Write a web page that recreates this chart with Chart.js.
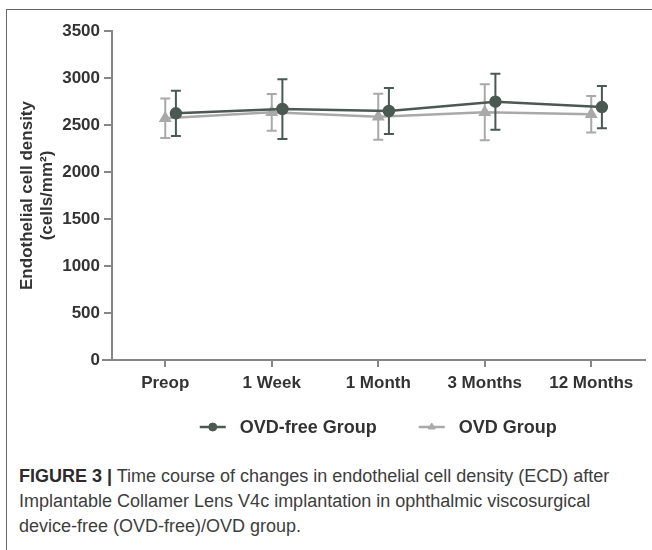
<!DOCTYPE html>
<html>
<head>
<meta charset="utf-8">
<script src="https://cdn.jsdelivr.net/npm/chart.js@4.4.1/dist/chart.umd.min.js"></script>
<style>
  html, body { margin: 0; padding: 0; background: #fff; }
  #wrap { position: relative; width: 652px; height: 550px; overflow: hidden; }
  #frame { position: absolute; left: 6px; top: 9px; right: 0; bottom: 0; border-left: 1px solid #666; border-top: 1px solid #666; }
  #chartBox { position: absolute; left: 0; top: 0; width: 652px; height: 450px; }
  #caption { position: absolute; left: 19px; top: 464px; font-family: "Liberation Sans", Arial, sans-serif; font-size: 18px; line-height: 25px; color: #3d3d3d; white-space: nowrap; }
  #caption b { font-weight: bold; color: #2b2b2b; }
</style>
</head>
<body>
<div id="wrap">
  <div id="frame"></div>
  <div id="chartBox"><canvas id="ecdChart"></canvas></div>
  <div id="caption"><b>FIGURE 3 |</b> Time course of changes in endothelial cell density (ECD) after<br>Implantable Collamer Lens V4c implantation in ophthalmic viscosurgical<br>device-free (OVD-free)/OVD group.</div>
</div>
<script>
// 数据
const categories = ['Preop', '1 Week', '1 Month', '3 Months', '12 Months'];
const ovdFreeMean = [2624, 2670, 2649, 2748, 2691];
const ovdFreeSD = [240, 318, 245, 298, 225];
const ovdMean = [2571, 2635, 2588, 2635, 2614];
const ovdSD = [210, 196, 245, 298, 195];
const yTicks = [0, 500, 1000, 1500, 2000, 2500, 3000, 3500];

const dark = '#4a5952';
const grey = '#a9a9a9';
const axisColor = '#868686';
const textColor = '#333';
const fontFamily = '"Liberation Sans", Arial, sans-serif';
const dodge = 0.1; // OVD-free 组稍微右移

// 误差线
const errorBars = {
  id: 'errorBars',
  beforeDatasetDraw(chart, args) {
    const ds = chart.data.datasets[args.index];
    const yScale = chart.scales.y;
    const ctx = chart.ctx;
    ctx.save();
    ctx.strokeStyle = ds.borderColor;
    ctx.lineWidth = 2;
    args.meta.data.forEach((pt, i) => {
      const m = ds.data[i].y, e = ds.errors[i];
      const top = yScale.getPixelForValue(m + e);
      const bot = yScale.getPixelForValue(m - e);
      ctx.beginPath();
      ctx.moveTo(pt.x, top); ctx.lineTo(pt.x, bot);
      ctx.moveTo(pt.x - 5, top); ctx.lineTo(pt.x + 5, top);
      ctx.moveTo(pt.x - 5, bot); ctx.lineTo(pt.x + 5, bot);
      ctx.stroke();
    });
    ctx.restore();
  }
};

// 图例 + x轴左侧延长
const lineLegend = {
  id: 'lineLegend',
  afterDraw(chart) {
    const ctx = chart.ctx;
    const area = chart.chartArea;
    ctx.save();
    // x轴向左延伸一点
    ctx.strokeStyle = axisColor;
    ctx.lineWidth = 2;
    ctx.beginPath();
    ctx.moveTo(area.left - 10, area.bottom);
    ctx.lineTo(area.left, area.bottom);
    ctx.stroke();

    ctx.font = 'bold 18px ' + fontFamily;
    const items = chart.data.datasets.map(ds => ({ ds, w: 26 + 14 + ctx.measureText(ds.label).width }));
    const gap = 42;
    const total = items.reduce((s, it) => s + it.w, 0) + gap * (items.length - 1);
    let x = (area.left + area.right) / 2 - total / 2;
    const y = area.bottom + 67;
    items.forEach(it => {
      ctx.strokeStyle = it.ds.borderColor;
      ctx.fillStyle = it.ds.borderColor;
      ctx.lineWidth = 2.5;
      ctx.beginPath();
      ctx.moveTo(x, y); ctx.lineTo(x + 26, y);
      ctx.stroke();
      ctx.lineWidth = 1;
      Chart.helpers.drawPoint(ctx, { pointStyle: it.ds.pointStyle, radius: 4, borderWidth: 1, rotation: 0 }, x + 13, y);
      ctx.fillStyle = textColor;
      ctx.textBaseline = 'middle';
      ctx.textAlign = 'left';
      ctx.fillText(it.ds.label, x + 40, y + 1);
      x += it.w + gap;
    });
    ctx.restore();
  }
};

new Chart(document.getElementById('ecdChart'), {
  type: 'line',
  data: {
    datasets: [{
      label: 'OVD-free Group',
      data: categories.map((c, i) => ({ x: i + dodge, y: ovdFreeMean[i] })),
      errors: ovdFreeSD,
      borderColor: dark,
      backgroundColor: dark,
      borderWidth: 2.5,
      pointStyle: 'circle',
      pointRadius: 5,
      pointHoverRadius: 5,
      tension: 0
    }, {
      label: 'OVD Group',
      data: categories.map((c, i) => ({ x: i, y: ovdMean[i] })),
      errors: ovdSD,
      borderColor: grey,
      backgroundColor: grey,
      borderWidth: 2.5,
      pointStyle: 'triangle',
      pointRadius: 5,
      pointHoverRadius: 5,
      tension: 0
    }]
  },
  options: {
    responsive: true,
    maintainAspectRatio: false,
    animation: false,
    layout: { padding: { top: 31, right: 1, bottom: 0, left: 0 } },
    plugins: {
      legend: { display: false },
      tooltip: { enabled: false }
    },
    scales: {
      x: {
        type: 'linear',
        min: -0.5,
        max: 4.5,
        afterBuildTicks: s => { s.ticks = categories.map((c, i) => ({ value: i })); },
        afterFit: s => { s.height = 90; },
        grid: { drawOnChartArea: false, drawTicks: true, tickLength: 7, color: axisColor, lineWidth: 2 },
        border: { color: axisColor, width: 2 },
        ticks: {
          autoSkip: false, maxRotation: 0, padding: 6,
          color: textColor,
          font: { family: fontFamily, size: 17, weight: 'bold' },
          callback: v => categories[v] ?? ''
        }
      },
      y: {
        min: 0,
        max: 3500,
        afterBuildTicks: s => { s.ticks = yTicks.map(v => ({ value: v })); },
        afterFit: s => { s.width = 112; },
        grid: { drawOnChartArea: false, drawTicks: true, tickLength: 8, color: axisColor, lineWidth: 2 },
        border: { color: axisColor, width: 2 },
        ticks: {
          padding: 4,
          color: textColor,
          font: { family: fontFamily, size: 17, weight: 'bold' },
          callback: v => String(v)
        },
        title: {
          display: true,
          text: ['Endothelial cell density', '(cells/mm²)'],
          color: textColor,
          font: { family: fontFamily, size: 17, weight: 'bold', lineHeight: 1.18 },
          padding: { top: 17, bottom: 0 }
        }
      }
    }
  },
  plugins: [errorBars, lineLegend]
});
</script>
</body>
</html>
